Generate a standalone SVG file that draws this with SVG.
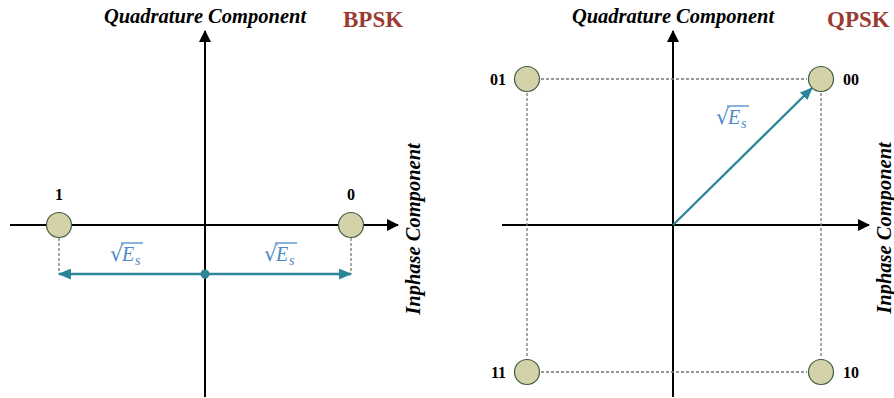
<svg xmlns="http://www.w3.org/2000/svg" width="894" height="398" viewBox="0 0 894 398">
<style>
.axis{stroke:#000;stroke-width:2;fill:none}
.dash{stroke:#777;stroke-width:1.3;stroke-dasharray:3 2;fill:none}
.vec{stroke:#2a8599;stroke-width:2.3;fill:none}
.pt{fill:#d3d2a8;stroke:#3e5e40;stroke-width:1.2}
.ttl{font-family:"Liberation Serif",serif;font-weight:bold;font-style:italic;font-size:20.5px;fill:#000}
.mod{font-family:"Liberation Serif",serif;font-weight:bold;font-size:23px;fill:#9a3b33}
.lbl{font-family:"Liberation Serif",serif;font-weight:bold;font-size:16px;fill:#000}
.m{font-family:"DejaVu Serif",serif;font-size:21px;fill:#4a8ac6}
.mi{font-family:"Liberation Serif",serif;font-style:italic;font-size:20px;fill:#4a8ac6}
.ms{font-family:"Liberation Serif",serif;font-style:italic;font-size:14px;fill:#4a8ac6}
.bar{stroke:#4a8ac6;stroke-width:1.3}
</style>
<defs>
<marker id="ah" viewBox="0 0 12 12" refX="11" refY="6" markerWidth="12" markerHeight="12" markerUnits="userSpaceOnUse" orient="auto"><path d="M0,0 L12,6 L0,12 Z" fill="#000"/></marker>
<marker id="th" viewBox="0 0 12 10" refX="11" refY="5" markerWidth="13" markerHeight="11" markerUnits="userSpaceOnUse" orient="auto-start-reverse"><path d="M0,0 L12,5 L0,10 Z" fill="#2a8599"/></marker>
</defs>

<g id="connectors">
<line class="axis" x1="205" y1="397" x2="205" y2="31" marker-end="url(#ah)"/>
<line class="axis" x1="10" y1="225" x2="398" y2="225" marker-end="url(#ah)"/>
<line class="dash" x1="59" y1="238" x2="59" y2="274"/>
<line class="dash" x1="351" y1="238" x2="351" y2="274"/>
<line class="vec" x1="59" y1="274" x2="351" y2="274" marker-start="url(#th)" marker-end="url(#th)"/>
<circle cx="205" cy="274" r="4.5" fill="#2a8599"/>
<line class="axis" x1="673" y1="397" x2="673" y2="31" marker-end="url(#ah)"/>
<line class="axis" x1="502" y1="225" x2="869" y2="225" marker-end="url(#ah)"/>
<line class="dash" x1="541" y1="79" x2="807" y2="79"/>
<line class="dash" x1="541" y1="372" x2="807" y2="372"/>
<line class="dash" x1="527" y1="93" x2="527" y2="358"/>
<line class="dash" x1="821" y1="93" x2="821" y2="358"/>
<line class="vec" x1="673" y1="225" x2="812" y2="88" marker-end="url(#th)"/>
</g>

<g id="bpsk-title">
<text class="ttl" x="205" y="23" text-anchor="middle">Quadrature Component</text>
<text class="mod" x="343" y="27">BPSK</text>
<text class="ttl" transform="translate(420,229) rotate(-90)" text-anchor="middle">Inphase Component</text>
</g>
<g id="bpsk-1">
<circle class="pt" cx="59" cy="225" r="12.5"/>
<text class="lbl" x="59" y="200" text-anchor="middle">1</text>
</g>
<g id="bpsk-0">
<circle class="pt" cx="351" cy="225" r="12.5"/>
<text class="lbl" x="351" y="200" text-anchor="middle">0</text>
</g>
<g id="bpsk-es-left">
<text class="m" x="110" y="261">√</text>
<line class="bar" x1="121" y1="243" x2="143" y2="243"/>
<text class="mi" x="122" y="261">E</text>
<text class="ms" x="135" y="265">s</text>
</g>
<g id="bpsk-es-right">
<text class="m" x="264" y="261">√</text>
<line class="bar" x1="275" y1="243" x2="297" y2="243"/>
<text class="mi" x="276" y="261">E</text>
<text class="ms" x="289" y="265">s</text>
</g>

<g id="qpsk-title">
<text class="ttl" x="673" y="23" text-anchor="middle">Quadrature Component</text>
<text class="mod" x="827" y="27">QPSK</text>
<text class="ttl" transform="translate(891,228) rotate(-90)" text-anchor="middle">Inphase Component</text>
</g>
<g id="qpsk-01">
<circle class="pt" cx="527" cy="79" r="12.5"/>
<text class="lbl" x="506" y="85" text-anchor="end">01</text>
</g>
<g id="qpsk-00">
<circle class="pt" cx="821" cy="79" r="12.5"/>
<text class="lbl" x="843" y="85">00</text>
</g>
<g id="qpsk-11">
<circle class="pt" cx="527" cy="372" r="12.5"/>
<text class="lbl" x="506" y="378" text-anchor="end">11</text>
</g>
<g id="qpsk-10">
<circle class="pt" cx="821" cy="372" r="12.5"/>
<text class="lbl" x="843" y="378">10</text>
</g>
<g id="qpsk-es">
<text class="m" x="716" y="124">√</text>
<line class="bar" x1="727" y1="106" x2="749" y2="106"/>
<text class="mi" x="728" y="124">E</text>
<text class="ms" x="741" y="128">s</text>
</g>
</svg>
